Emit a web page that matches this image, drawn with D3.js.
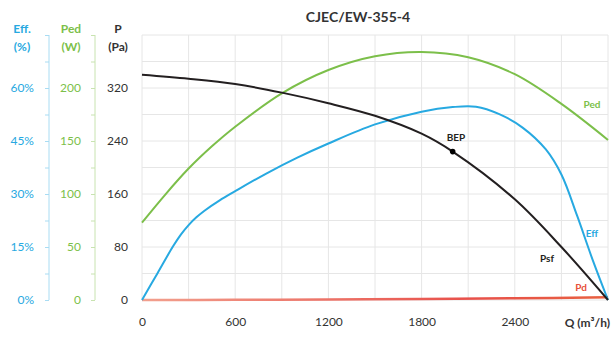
<!DOCTYPE html>
<html><head><meta charset="utf-8">
<script src="https://cdn.jsdelivr.net/npm/d3@7"></script>
<style>body{margin:0;background:#fff}svg{display:block;font-family:Lato,"Open Sans",sans-serif}</style>
</head><body><svg id="c" width="611" height="338"></svg>
<script>
const title = "CJEC/EW-355-4";
const xTicks = [0, 600, 1200, 1800, 2400];
const pTicks = [0, 80, 160, 240, 320];
const effTicks = [0, 15, 30, 45, 60];
const pedTicks = [0, 50, 100, 150, 200];

const psfQ = [0,300,600,900,1200,1500,1800,2000,2400,2700,3000];
const psfP = [340,334,326,313,297,278,251,224,152,80,0];

const pedQ = [0,150,300,450,600,900,1200,1500,1800,2100,2400,2700,3000];
const pedW = [73,99.5,124,145,163.5,195,217,230,234,229,213,185,151];

const effQ = [0,100,200,250,300,350,400,500,600,800,1000,1200,1500,1800,2000,2150,2300,2450,2600,2700,2800,2900,3000];
const effPct = [0,7.6,15.2,18.5,21.2,23.4,25.2,28.2,30.8,35.8,40.3,44.3,49.7,53.3,54.6,54.7,52.6,48.8,42.6,35.5,24.0,11.5,0];

const pdQ = [0,600,1200,1800,2400,3000];
const pdP = [0,0.2,0.7,1.5,2.6,4];

const bep = {q: 2000, p: 224};

const svg = d3.select("#c");
const x = d3.scaleLinear([0,3000],[142,608]);
const y = d3.scaleLinear([0,400],[300,35]);
const yEff = d3.scaleLinear([0,75],[300,35]);
const yPed = d3.scaleLinear([0,250],[300,35]);

const BLUE = "#27a9e1", GREEN = "#7cbf4a", BLACK = "#231f20", RED = "#e8503a";

// grid
const g = svg.append("g");
g.selectAll(".hg").data(d3.range(0,401,40)).join("line")
  .attr("x1",x(0)).attr("x2",x(3000)).attr("y1",d=>y(d)).attr("y2",d=>y(d))
  .attr("stroke","#e6e6e6").attr("stroke-width",1);
g.selectAll(".vg").data(d3.range(0,3001,300)).join("line")
  .attr("x1",d=>x(d)).attr("x2",d=>x(d)).attr("y1",y(0)).attr("y2",y(400))
  .attr("stroke","#e6e6e6").attr("stroke-width",1);

// P axis labels
svg.append("g").attr("transform",`translate(${x(0)},0)`)
  .call(d3.axisLeft(y).tickValues(pTicks).tickSize(0).tickPadding(14).tickFormat(d3.format("d")))
  .call(a=>a.select(".domain").remove())
  .call(a=>a.selectAll("text").attr("fill","#333").attr("font-size",12).attr("font-family","Lato"));

// Eff axis
svg.append("g").attr("transform","translate(49,0)")
  .call(d3.axisLeft(yEff).tickValues(d3.range(0,75.1,7.5)).tickSize(4).tickPadding(11)
    .tickFormat(d=>effTicks.includes(d)?d+"%":""))
  .call(a=>a.select(".domain").attr("stroke","#a9dcf3").attr("d","M0,"+yEff(75)+"V"+yEff(0)))
  .call(a=>a.selectAll("line").attr("stroke","#a9dcf3"))
  .call(a=>a.selectAll("text").attr("fill",BLUE).attr("font-size",12).attr("font-family","Lato"));

// Ped axis
svg.append("g").attr("transform","translate(95,0)")
  .call(d3.axisLeft(yPed).tickValues(d3.range(0,250.1,25)).tickSize(4).tickPadding(10)
    .tickFormat(d=>pedTicks.includes(d)?d:""))
  .call(a=>a.select(".domain").attr("stroke","#c8e3b0").attr("d","M0,"+yPed(250)+"V"+yPed(0)))
  .call(a=>a.selectAll("line").attr("stroke","#c8e3b0"))
  .call(a=>a.selectAll("text").attr("fill",GREEN).attr("font-size",12).attr("font-family","Lato"));

// X axis labels
svg.append("g").attr("transform",`translate(0,${y(0)})`)
  .call(d3.axisBottom(x).tickValues(xTicks).tickSize(0).tickPadding(17).tickFormat(d3.format("d")))
  .call(a=>a.select(".domain").remove())
  .call(a=>a.selectAll("text").attr("fill","#333").attr("font-size",12).attr("font-family","Lato"));

// axis titles
const tt = (txt,xx,yy,col)=>svg.append("text").attr("x",xx).attr("y",yy).attr("text-anchor","middle")
  .attr("font-size",12).attr("font-weight","bold").attr("fill",col).text(txt);
tt("Eff.",22,33,BLUE); tt("(%)",22,51,BLUE);
tt("Ped",71,33,GREEN); tt("(W)",71,51,GREEN);
tt("P",118,33,"#333"); tt("(Pa)",118,51,"#333");
svg.append("text").attr("x",358).attr("y",22).attr("text-anchor","middle")
  .attr("font-size",14).attr("font-weight","bold").attr("fill","#333").text(title);
svg.append("text").attr("x",610).attr("y",327).attr("text-anchor","end")
  .attr("font-size",12).attr("font-weight","bold").attr("fill","#333")
  .text("Q (m³/h)");

// gradient for Pd
const defs = svg.append("defs");
const grad = defs.append("linearGradient").attr("id","pdg").attr("gradientUnits","userSpaceOnUse")
  .attr("x1",x(0)).attr("x2",x(3000)).attr("y1",0).attr("y2",0);
grad.append("stop").attr("offset",0).attr("stop-color","#f2a08e");
grad.append("stop").attr("offset",0.7).attr("stop-color","#e8504a");
grad.append("stop").attr("offset",1).attr("stop-color","#e86040");

const curve = d3.curveCatmullRom.alpha(0.5);
const mk = (qs,vs,ys)=>d3.line().curve(curve).x((d,i)=>x(qs[i])).y((d,i)=>ys(vs[i]))(qs);

svg.append("path").attr("d",mk(pdQ,pdP,y)).attr("fill","none").attr("stroke","url(#pdg)").attr("stroke-width",2.5);
svg.append("path").attr("d",mk(pedQ,pedW,yPed)).attr("fill","none").attr("stroke",GREEN).attr("stroke-width",2);
svg.append("path").attr("d",mk(effQ,effPct,yEff)).attr("fill","none").attr("stroke",BLUE).attr("stroke-width",2);
svg.append("path").attr("d",mk(psfQ,psfP,y)).attr("fill","none").attr("stroke",BLACK).attr("stroke-width",2);

svg.append("circle").attr("cx",x(bep.q)).attr("cy",y(bep.p)).attr("r",2.8).attr("fill","#000");

const lab = (txt,xx,yy,col)=>svg.append("text").attr("x",xx).attr("y",yy).attr("text-anchor","middle")
  .attr("font-size",10).attr("font-weight","bold").attr("fill",col).text(txt);
lab("Ped",592,108,GREEN);
lab("BEP",456,141,BLACK);
lab("Eff",592,237,BLUE);
lab("Psf",547,262,BLACK);
lab("Pd",581,291,RED);
</script></body></html>
